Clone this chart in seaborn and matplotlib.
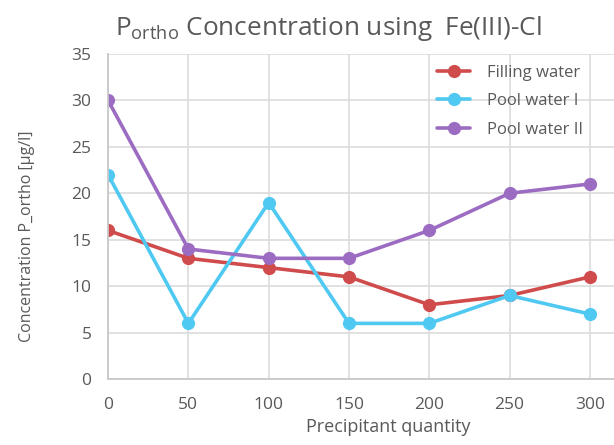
import matplotlib
matplotlib.use("Agg")
import matplotlib.pyplot as plt
import seaborn as sns
import pandas as pd

quantity = [0, 50, 100, 150, 200, 250, 300]
filling_water = [16, 13, 12, 11, 8, 9, 11]
pool_water_1 = [22, 6, 19, 6, 6, 9, 7]
pool_water_2 = [30, 14, 13, 13, 16, 20, 21]
series_names = ["Filling water", "Pool water I", "Pool water II"]
colors = ["#D04B4B", "#4FC9F2", "#9C6CC2"]

df = pd.concat([
    pd.DataFrame({"x": quantity, "y": vals, "series": name})
    for name, vals in zip(series_names, [filling_water, pool_water_1, pool_water_2])
])

sns.set_theme(style="white")
plt.rcParams["font.family"] = ["Open Sans", "DejaVu Sans"]
plt.rcParams["mathtext.fontset"] = "custom"
plt.rcParams["mathtext.rm"] = "Open Sans"
plt.rcParams["mathtext.it"] = "Open Sans"

fig = plt.figure(figsize=(6.14, 4.45), dpi=100)
ax = fig.add_axes([0.176, 0.148, 0.824, 0.731])

sns.lineplot(data=df, x="x", y="y", hue="series", palette=colors, marker="o",
             markersize=9.5, markeredgewidth=0, linewidth=2.6, ax=ax)

ax.set_xlim(0, 315)
ax.set_ylim(0, 35)
ax.set_xticks(quantity)
ax.set_yticks(range(0, 36, 5))
ax.grid(True, color="#DCDCDC", linewidth=1.2)
ax.set_axisbelow(True)
for s in ["top", "right"]:
    ax.spines[s].set_visible(False)
for s in ["left", "bottom"]:
    ax.spines[s].set_color("#C8C8C8")
    ax.spines[s].set_linewidth(1.3)
ax.tick_params(axis="both", colors="#595959", labelsize=12.5, length=0)
ax.tick_params(axis="x", pad=13)
ax.tick_params(axis="y", pad=12)
ax.set_xlabel("Precipitant quantity", fontsize=13, color="#595959")
ax.set_ylabel("Concentration P_ortho [µg/l]", fontsize=11.5, color="#595959")
ax.xaxis.set_label_coords(0.553, -0.12)
ax.yaxis.set_label_coords(-0.144, 0.44)

fig.text(0.534, 1 - 35 / 445, r"P$_{\mathrm{ortho}}$ Concentration using  Fe(III)-Cl",
         ha="center", va="baseline", fontsize=18.8, color="#595959")

leg = ax.legend(loc="center left", bbox_to_anchor=(0.637, 0.855), borderaxespad=0,
                frameon=False, fontsize=12, handlelength=2.0, labelspacing=0.75,
                handletextpad=1.0)
for t in leg.get_texts():
    t.set_color("#595959")

fig.savefig("out.png", dpi=100)
